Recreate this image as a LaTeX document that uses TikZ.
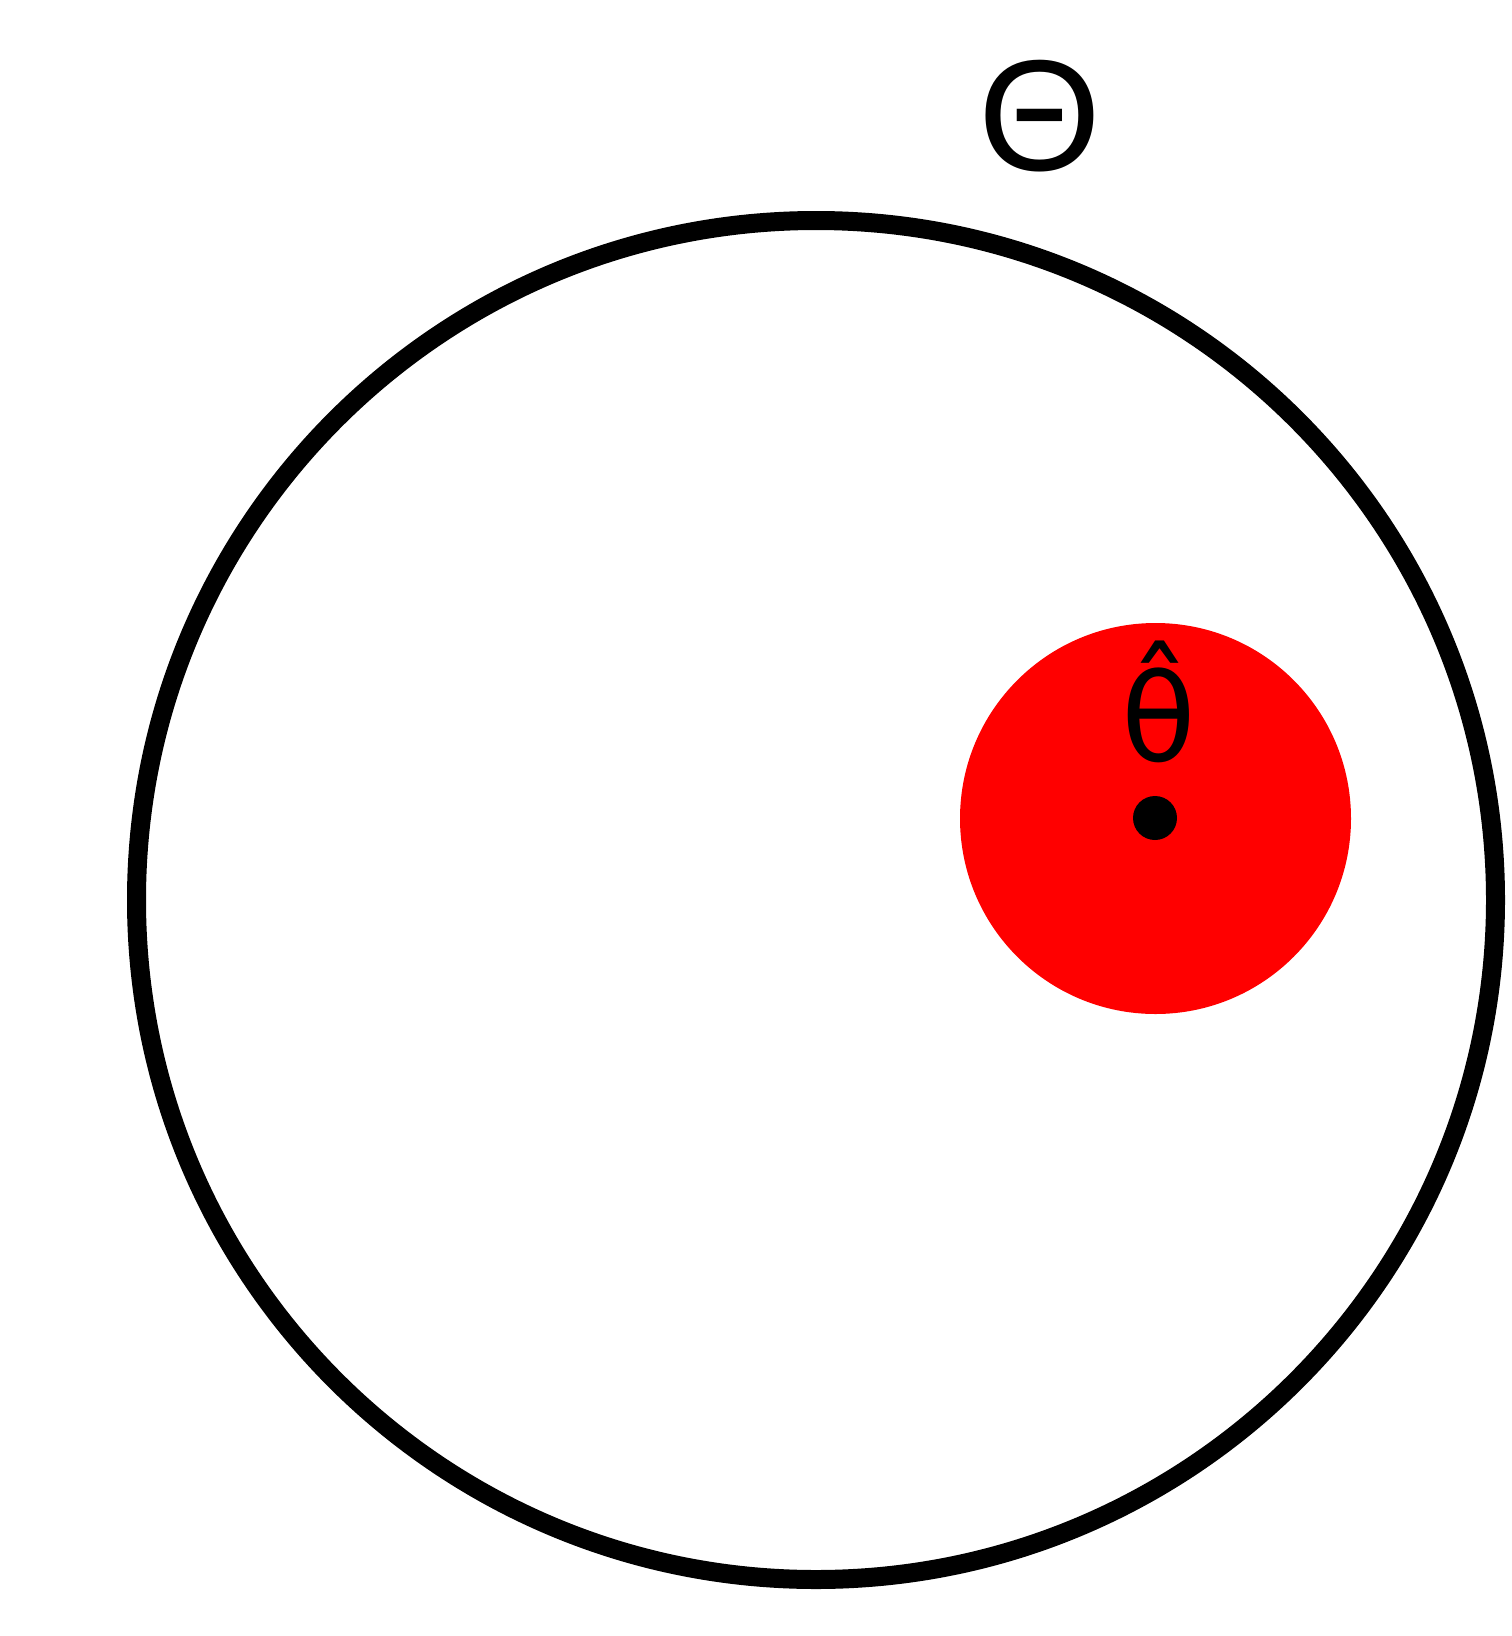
\documentclass[tikz,border=0pt]{standalone}
\usepackage{fontspec}
\setmainfont{Liberation Sans}
\newfontfamily\hatfont{DejaVu Sans}
\usetikzlibrary{positioning}
\begin{document}
\begin{tikzpicture}[x=1pt,y=-1pt]
\tikzset{disc/.style={circle,inner sep=0pt,outer sep=0pt},
  lbl/.style={inner sep=0pt,anchor=base,text=black}}
\useasboundingbox (0,0) rectangle (1512,1636);
\fill[white] (0,0) rectangle (1512,1636);
% parameter space and confidence region
\node[disc,draw=black,line width=19pt,minimum size=1359pt] (param) at (816,900) {};
\node[disc,fill=red,minimum size=391pt] (region) at (1155.5,818.5) {};
\node[disc,fill=black,minimum size=44pt] (est) at (1155,818) {};
% labels
\node[lbl,font=\fontsize{158}{162}\selectfont] (Theta) at (1040,170) {Θ};
\node[lbl,font=\hatfont\fontsize{122}{126}\selectfont] (thetahat) at (1159,761) {θ̂};
\end{tikzpicture}
\end{document}
